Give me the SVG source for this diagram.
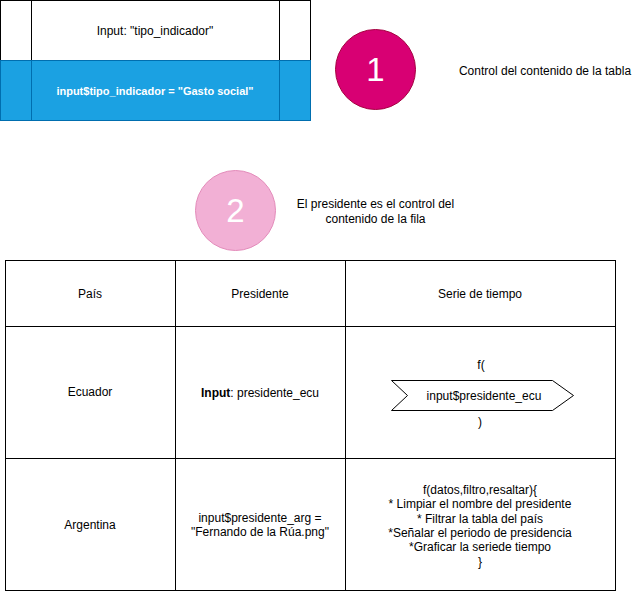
<svg xmlns="http://www.w3.org/2000/svg" width="636" height="591" viewBox="0 0 636 591">
<style>
text{font-family:"Liberation Sans",Arial,Helvetica,sans-serif;font-size:12px;fill:#000;text-anchor:middle}
.w{fill:#fff}
.b{font-weight:bold}
.s11{font-size:11px}
.big{font-size:33px;fill:#fff}
.ln{stroke:#000;stroke-width:1;fill:none}
.bl{stroke:#006EAF;stroke-width:1}
</style>
<rect width="636" height="591" fill="#fff"/>
<g id="control-table">
<rect x="0.5" y="0.5" width="310" height="60" fill="#fff" stroke="#000"/>
<line class="ln" x1="31.5" y1="0.5" x2="31.5" y2="60.5"/>
<line class="ln" x1="279.5" y1="0.5" x2="279.5" y2="60.5"/>
<text x="155" y="35">Input: "tipo_indicador"</text>
<rect x="0.5" y="60.5" width="310" height="60" fill="#1BA1E2" class="bl"/>
<line class="bl" x1="31.5" y1="60.5" x2="31.5" y2="120.5"/>
<line class="bl" x1="279.5" y1="60.5" x2="279.5" y2="120.5"/>
<text x="155" y="94.5" class="w b s11">input$tipo_indicador = "Gasto social"</text>
</g>
<g id="circle-1">
<circle cx="375.5" cy="69.5" r="40" fill="#D80073" stroke="#A50040"/>
<text x="375.5" y="81" class="big">1</text>
</g>
<g id="label-1">
<text x="545" y="75">Control del contenido de la tabla</text>
</g>
<g id="circle-2">
<circle cx="235.5" cy="210.5" r="40" fill="#F2B0D5" stroke="#E38BBA"/>
<text x="235.5" y="222" class="big">2</text>
</g>
<g id="label-2">
<text x="375.5" y="207.5">El presidente es el control del</text>
<text x="375.5" y="222.5">contenido de la fila</text>
</g>
<g id="table">
<rect class="ln" x="5.5" y="260.5" width="610" height="330"/>
<line class="ln" x1="175.5" y1="260.5" x2="175.5" y2="590.5"/>
<line class="ln" x1="345.5" y1="260.5" x2="345.5" y2="590.5"/>
<line class="ln" x1="5.5" y1="326.5" x2="615.5" y2="326.5"/>
<line class="ln" x1="5.5" y1="458.5" x2="615.5" y2="458.5"/>
</g>
<g id="header">
<text x="90" y="298">País</text>
<text x="260" y="298">Presidente</text>
<text x="480" y="298">Serie de tiempo</text>
</g>
<g id="row-ecuador">
<text x="90" y="396">Ecuador</text>
<text x="260" y="397"><tspan class="b">Input</tspan>: presidente_ecu</text>
<text x="481" y="369">f(</text>
<text x="480" y="426">)</text>
</g>
<g id="chevron">
<path d="M391.5,380.5 L552.5,380.5 L573.5,395.5 L552.5,410.5 L391.5,410.5 L407.5,395.5 Z" fill="#fff" stroke="#000"/>
<text x="484" y="400">input$presidente_ecu</text>
</g>
<g id="row-argentina">
<text x="90" y="528.5">Argentina</text>
<text x="260" y="521.5">input$presidente_arg =</text>
<text x="260" y="536">"Fernando de la Rúa.png"</text>
<text x="480" y="494">f(datos,filtro,resaltar){</text>
<text x="480" y="508.3">* Limpiar el nombre del presidente</text>
<text x="480" y="522.7">* Filtrar la tabla del país</text>
<text x="480" y="537">*Señalar el periodo de presidencia</text>
<text x="480" y="551.3">*Graficar la seriede tiempo</text>
<text x="480" y="565.7">}</text>
</g>
<g id="connectors"></g>
</svg>
